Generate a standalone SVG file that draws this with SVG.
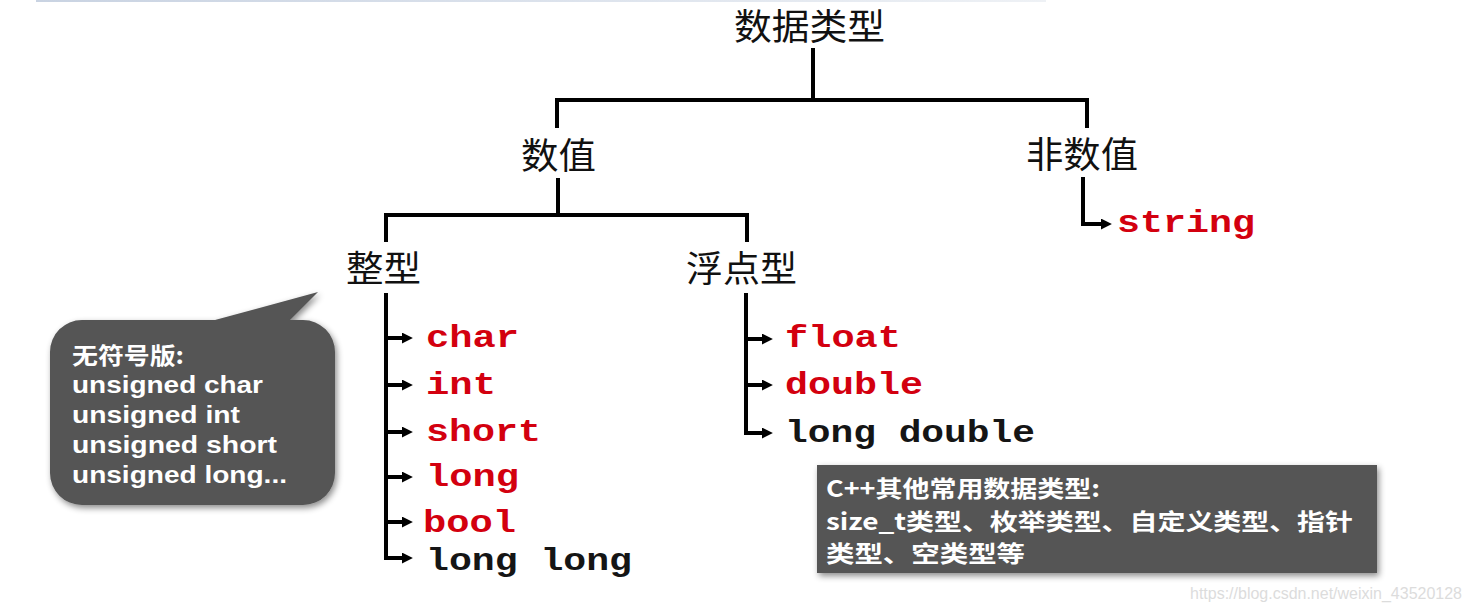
<svg xmlns="http://www.w3.org/2000/svg" width="1471" height="612" viewBox="0 0 1471 612">
<defs>
<style>
.cjk{font-family:"Noto Sans CJK SC","Noto Sans",sans-serif;font-size:36px;fill:#111}
.mono{font-family:"Liberation Mono","Courier New",monospace;font-weight:bold;font-size:32px}
.red{fill:#d3000f}
.blk{fill:#151515}
.wl{font-family:"Liberation Sans",Arial,sans-serif;font-weight:bold;font-size:23px;fill:#fff}
.wc{font-family:"Noto Sans CJK SC",sans-serif;font-weight:bold;font-size:23px;fill:#fff}
.tree{fill:none;stroke:#000;stroke-width:4}
.arr{fill:none;stroke:#000;stroke-width:4;marker-end:url(#ah)}
.box{fill:#555555;filter:url(#sh)}
</style>
<marker id="ah" viewBox="0 0 10 10" refX="1" refY="5" markerWidth="11" markerHeight="11" markerUnits="userSpaceOnUse" orient="auto">
<path d="M0,0 L10,5 L0,10 z" fill="#000"/>
</marker>
<filter id="sh" x="-10%" y="-10%" width="125%" height="130%">
<feDropShadow dx="2" dy="3" stdDeviation="3" flood-color="#000" flood-opacity="0.45"/>
</filter>
<linearGradient id="topg" x1="0" y1="0" x2="1" y2="0">
<stop offset="0" stop-color="#c9d3e2"/>
<stop offset="0.6" stop-color="#dfe5ee"/>
<stop offset="1" stop-color="#eef1f5"/>
</linearGradient>
</defs>
<rect x="0" y="0" width="1471" height="612" fill="#fff"/>
<rect x="36" y="0" width="1010" height="2" fill="url(#topg)"/>

<g id="connectors">
<path class="tree" d="M813,48 V100"/>
<path class="tree" d="M557,128 V100 H1087 V128"/>
<path class="tree" d="M558,178 V215"/>
<path class="tree" d="M386,242 V215 H747 V242"/>
<path class="arr" d="M386,293 V558 H403"/>
<path class="arr" d="M386,338 H403"/>
<path class="arr" d="M386,385 H403"/>
<path class="arr" d="M386,432 H403"/>
<path class="arr" d="M386,477 H403"/>
<path class="arr" d="M386,522 H403"/>
<path class="arr" d="M746,293 V433 H763"/>
<path class="arr" d="M746,339 H763"/>
<path class="arr" d="M746,385 H763"/>
<path class="arr" d="M1083,177 V224 H1102"/>
</g>

<g id="n-root"><text class="cjk" x="734" y="40" textLength="151" lengthAdjust="spacingAndGlyphs">数据类型</text></g>
<g id="n-numeric"><text class="cjk" x="521" y="169" textLength="75" lengthAdjust="spacingAndGlyphs">数值</text></g>
<g id="n-nonnumeric"><text class="cjk" x="1026" y="168" textLength="112" lengthAdjust="spacingAndGlyphs">非数值</text></g>
<g id="n-integer"><text class="cjk" x="346" y="282" textLength="75" lengthAdjust="spacingAndGlyphs">整型</text></g>
<g id="n-float"><text class="cjk" x="686" y="282" textLength="111" lengthAdjust="spacingAndGlyphs">浮点型</text></g>

<g id="n-char"><text class="mono red" x="426" y="347" textLength="93" lengthAdjust="spacingAndGlyphs">char</text></g>
<g id="n-int"><text class="mono red" x="426" y="394" textLength="70" lengthAdjust="spacingAndGlyphs">int</text></g>
<g id="n-short"><text class="mono red" x="426" y="441" textLength="115" lengthAdjust="spacingAndGlyphs">short</text></g>
<g id="n-long"><text class="mono red" x="426" y="486" textLength="93" lengthAdjust="spacingAndGlyphs">long</text></g>
<g id="n-bool"><text class="mono red" x="423" y="532" textLength="93" lengthAdjust="spacingAndGlyphs">bool</text></g>
<g id="n-longlong"><text class="mono blk" x="426" y="570" textLength="206" lengthAdjust="spacingAndGlyphs">long long</text></g>

<g id="n-floatt"><text class="mono red" x="785" y="347" textLength="116" lengthAdjust="spacingAndGlyphs">float</text></g>
<g id="n-double"><text class="mono red" x="785" y="394" textLength="138" lengthAdjust="spacingAndGlyphs">double</text></g>
<g id="n-longdouble"><text class="mono blk" x="785" y="442" textLength="250" lengthAdjust="spacingAndGlyphs">long double</text></g>

<g id="n-string"><text class="mono red" x="1117" y="232" textLength="138" lengthAdjust="spacingAndGlyphs">string</text></g>

<g id="n-unsigned-callout">
<path class="box" d="M82,320 H215 L318,292 L290,320 H303 A32,32 0 0 1 335,352 V473 A32,32 0 0 1 303,505 H82 A32,32 0 0 1 50,473 V352 A32,32 0 0 1 82,320 Z"/>
<text class="wc" x="72" y="364" textLength="112" lengthAdjust="spacingAndGlyphs">无符号版:</text>
<text class="wl" x="72" y="393" textLength="191" lengthAdjust="spacingAndGlyphs">unsigned char</text>
<text class="wl" x="72" y="423" textLength="168" lengthAdjust="spacingAndGlyphs">unsigned int</text>
<text class="wl" x="72" y="453" textLength="205" lengthAdjust="spacingAndGlyphs">unsigned short</text>
<text class="wl" x="72" y="483" textLength="215" lengthAdjust="spacingAndGlyphs">unsigned long...</text>
</g>

<g id="n-other-types">
<rect class="box" x="817" y="465" width="560" height="108"/>
<text class="wc" x="826" y="497" font-size="24" textLength="274" lengthAdjust="spacingAndGlyphs">C++其他常用数据类型:</text>
<text class="wc" x="826" y="530" font-size="24" textLength="527" lengthAdjust="spacingAndGlyphs">size_t类型、枚举类型、自定义类型、指针</text>
<text class="wc" x="826" y="562" font-size="24" textLength="199" lengthAdjust="spacingAndGlyphs">类型、空类型等</text>
</g>

<text x="1190" y="599" font-family="Liberation Sans, Arial, sans-serif" font-size="16" fill="#dcdcdc" textLength="272" lengthAdjust="spacingAndGlyphs">https://blog.csdn.net/weixin_43520128</text>
</svg>
